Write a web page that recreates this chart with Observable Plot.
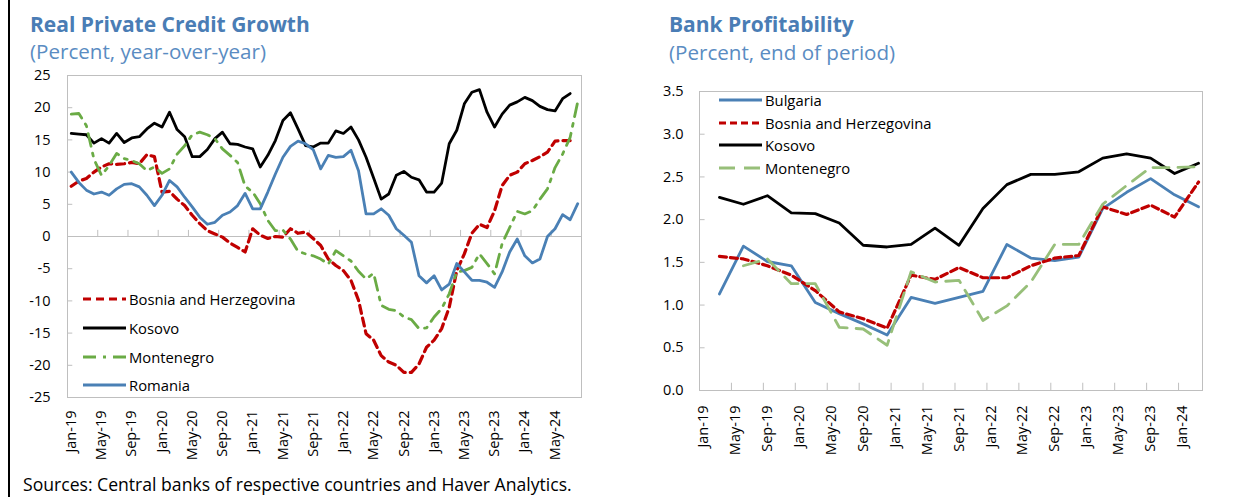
<!DOCTYPE html>
<html><head><meta charset="utf-8">
<script src="https://cdn.jsdelivr.net/npm/d3@7"></script>
<script src="https://cdn.jsdelivr.net/npm/@observablehq/plot@0.6"></script>
<style>
body{margin:0;background:#fff;width:1243px;height:497px;position:relative;overflow:hidden;font-family:"Open Sans",sans-serif;}
.vline{position:absolute;left:8px;top:0;width:2px;height:497px;background:#000;}
.title{position:absolute;font-weight:700;color:#4a7db5;font-size:21px;line-height:22px;white-space:nowrap;}
.sub{position:absolute;color:#5a8cc2;font-size:20.6px;line-height:20px;white-space:nowrap;}
.chart{position:absolute;}
.leg{position:absolute;font-size:14.8px;line-height:16px;color:#000;white-space:nowrap;display:flex;align-items:center;}
.leg svg{margin-right:3px;}
.caption{position:absolute;left:23px;top:475px;font-size:17.6px;line-height:18px;color:#000;white-space:nowrap;}
</style></head>
<body>
<div class="vline"></div>
<div class="title" style="left:30px;top:13px">Real Private Credit Growth</div>
<div class="sub" style="left:30px;top:41px">(Percent, year-over-year)</div>
<div class="title" style="left:669px;top:13px">Bank Profitability</div>
<div class="sub" style="left:669px;top:42px">(Percent, end of period)</div>
<div id="left" class="chart" style="left:0;top:65px"></div>
<div id="right" class="chart" style="left:640px;top:80px"></div>
<div id="legends"></div>
<div class="caption">Sources: Central banks of respective countries and Haver Analytics.</div>
<script>
// ---------- categories ----------
const monthStarts = d3.utcMonths(new Date(Date.UTC(2019,0,1)), new Date(Date.UTC(2024,8,1)));
const monthLabels = monthStarts.map(d3.utcFormat("%b-%y")); // Jan-19 ... Aug-24

// ---------- left: real private credit growth (monthly, Jan-19 onward) ----------
const bosniaGrowth = [7.8,8.6,9.0,10.0,10.8,11.3,11.2,11.3,11.5,11.3,12.7,12.4,6.9,7.0,5.8,4.8,3.3,2.0,0.9,0.4,-0.1,-1.0,-1.7,-2.4,1.2,0.2,-0.3,0.0,-0.1,1.2,0.5,0.7,-0.3,-1.4,-3.5,-4.5,-5.3,-6.8,-9.9,-15.1,-16.1,-18.5,-19.5,-20.0,-21.1,-21.1,-19.8,-17.2,-16.1,-14.3,-11.0,-5.3,-2.7,0.5,1.9,1.4,4.0,7.9,9.5,10.0,11.3,11.8,12.4,13.1,14.8,14.9,14.9];
const kosovoGrowth = [16.0,15.9,15.8,14.5,15.2,14.5,16.0,14.6,15.3,15.5,16.7,17.6,17.0,19.3,16.6,15.5,12.4,12.4,13.5,15.2,16.2,14.4,14.3,13.9,13.6,10.8,12.6,14.9,18.0,19.2,16.7,14.1,13.9,14.5,14.5,16.4,16.0,17.0,15.0,12.3,9.1,5.8,6.6,9.5,10.1,9.2,8.8,6.9,6.9,8.3,14.4,16.5,20.6,22.4,22.8,19.3,17.0,19.0,20.4,20.9,21.6,21.1,20.2,19.7,19.5,21.4,22.2];
const montenegroGrowth = [19.0,19.1,17.2,12.0,9.5,11.0,12.9,12.1,11.8,11.3,10.2,10.8,9.8,10.5,12.8,14.1,15.8,16.2,15.8,15.2,13.6,12.6,11.5,7.8,6.9,5.1,2.5,0.9,1.0,-0.4,-2.3,-2.7,-3.0,-3.5,-4.3,-2.2,-3.0,-3.8,-5.4,-6.6,-5.7,-10.7,-11.3,-11.5,-12.5,-12.9,-14.3,-14.2,-12.5,-11.2,-8.9,-5.5,-5.3,-4.8,-2.7,-4.2,-5.8,-1.1,1.4,3.9,3.5,4.0,5.8,7.4,10.7,12.8,15.4,20.9];
const romaniaGrowth = [10.0,8.4,7.2,6.6,6.9,6.4,7.4,8.1,8.2,7.7,6.4,4.8,6.4,8.7,7.7,6.1,4.6,3.0,1.9,2.2,3.3,3.8,4.8,6.7,4.3,4.3,6.9,9.7,12.3,14.0,14.8,14.4,13.5,10.5,12.6,12.3,12.4,13.4,10.2,3.5,3.5,4.3,3.3,1.2,0.2,-0.9,-6.1,-7.2,-6.1,-8.3,-7.4,-4.2,-5.5,-6.8,-6.8,-7.1,-7.9,-5.5,-2.4,-0.4,-3.0,-4.1,-3.5,0.0,1.2,3.4,2.6,5.1];
const growthTicks = [-25,-20,-15,-10,-5,0,5,10,15,20,25];

// ---------- right: bank profitability (quarterly, Mar-19 to Mar-24) ----------
const quarterMonthIndex = d3.range(21).map(q => 2 + 3*q); // Mar-19, Jun-19, ... Mar-24
const bulgariaROA   = [1.13,1.69,1.51,1.46,1.03,0.90,0.78,0.65,1.09,1.02,1.09,1.16,1.71,1.55,1.52,1.56,2.13,2.32,2.48,2.29,2.15];
const bosniaROA     = [1.57,1.54,1.46,1.35,1.17,0.92,0.84,0.73,1.35,1.30,1.44,1.32,1.32,1.46,1.55,1.58,2.15,2.06,2.17,2.03,2.44];
const kosovoROA     = [2.26,2.18,2.28,2.08,2.07,1.96,1.70,1.68,1.71,1.90,1.70,2.13,2.41,2.53,2.53,2.56,2.72,2.77,2.72,2.54,2.66];
const montenegroROA = [null,1.46,1.54,1.25,1.25,0.74,0.72,0.53,1.39,1.27,1.29,0.82,0.99,1.27,1.71,1.71,2.18,2.40,2.61,2.61,2.62];
const roaTicks = [0,0.5,1,1.5,2,2.5,3,3.5];

// ---------- styles ----------
const BLUE = "#4a80b5", RED = "#c00000", BLACK = "#000000", GREEN_L = "#6aab45", GREEN_R = "#97bf79", GRID = "#bfbfbf";

function rows(vals, xs) {
  return vals.map((v, i) => ({x: xs ? xs[i] : i, v})).filter(d => d.v != null);
}
const font = {fontFamily: '"Open Sans", sans-serif', fontSize: "14.5px", color: "#000", background: "transparent", overflow: "visible"};

// left chart
const nL = monthLabels.length; // 68
const leftSeries = [
  {name: "Bosnia and Herzegovina", vals: bosniaGrowth, stroke: RED, dash: "8,5", w: 3.2},
  {name: "Kosovo", vals: kosovoGrowth, stroke: BLACK, dash: null, w: 2.8},
  {name: "Montenegro", vals: montenegroGrowth, stroke: GREEN_L, dash: "13,7,3,7", w: 2.8},
  {name: "Romania", vals: romaniaGrowth, stroke: BLUE, dash: null, w: 2.8}
];
const leftChart = Plot.plot({
  width: 600, height: 400, marginLeft: 67, marginRight: 19, marginTop: 10, marginBottom: 68,
  x: {domain: [-0.5, nL - 0.5], axis: null},
  y: {domain: [-25, 25], axis: null},
  style: font,
  marks: [
    Plot.frame({stroke: GRID}),
    Plot.ruleY([0], {stroke: GRID, strokeWidth: 1.2}),
    Plot.ruleX(d3.range(3.5, nL - 1, 4), {x: d => d, y1: 0, y2: 0.95, stroke: GRID}),
    Plot.ruleY(growthTicks, {y: d => d, x1: -0.5, x2: 0.2, stroke: GRID}),
    Plot.axisY(growthTicks, {label: null, tickSize: 0, tickPadding: 17, tickFormat: d => String(d)}),
    Plot.axisX(d3.range(0, nL, 4), {label: null, tickSize: 0, tickPadding: 13, tickRotate: -90, tickFormat: i => monthLabels[i]}),
    ...leftSeries.map(s => Plot.line(rows(s.vals), {x: "x", y: "v", stroke: s.stroke, strokeWidth: s.w, strokeDasharray: s.dash, strokeLinejoin: "round"}))
  ]
});
document.getElementById("left").append(leftChart);

// right chart
const nR = 63; // Jan-19 .. Mar-24
const rightSeries = [
  {name: "Bulgaria", vals: bulgariaROA, stroke: BLUE, dash: null, w: 2.8},
  {name: "Bosnia and Herzegovina", vals: bosniaROA, stroke: RED, dash: "7,4", w: 3.2},
  {name: "Kosovo", vals: kosovoROA, stroke: BLACK, dash: null, w: 2.8},
  {name: "Montenegro", vals: montenegroROA, stroke: GREEN_R, dash: "16,9", w: 2.8}
];
const rightChart = Plot.plot({
  width: 603, height: 400, marginLeft: 59, marginRight: 41, marginTop: 11, marginBottom: 90,
  x: {domain: [-0.5, nR - 0.5], axis: null},
  y: {domain: [0, 3.5], axis: null},
  style: font,
  marks: [
    Plot.frame({stroke: GRID}),
    Plot.ruleX(d3.range(3.5, nR - 1, 4), {x: d => d, y1: 0, y2: 0.085, stroke: GRID}),
    Plot.ruleY(roaTicks, {y: d => d, x1: -0.5, x2: 0.2, stroke: GRID}),
    Plot.axisY(roaTicks, {label: null, tickSize: 0, tickPadding: 16, tickFormat: d => d.toFixed(1)}),
    Plot.axisX(d3.range(0, nR, 4), {label: null, tickSize: 0, tickPadding: 15, tickRotate: -90, tickFormat: i => monthLabels[i]}),
    ...rightSeries.map(s => Plot.line(rows(s.vals, quarterMonthIndex), {x: "x", y: "v", stroke: s.stroke, strokeWidth: s.w, strokeDasharray: s.dash, strokeLinejoin: "round"}))
  ]
});
document.getElementById("right").append(rightChart);

// legends
function legend(series, left, tops) {
  const host = document.getElementById("legends");
  series.forEach((s, i) => {
    const div = document.createElement("div");
    div.className = "leg";
    div.style.left = left + "px";
    div.style.top = (tops[i] - 8) + "px";
    div.innerHTML = `<svg width="43" height="8"><line x1="0" y1="4" x2="43" y2="4" stroke="${s.stroke}" stroke-width="${s.w}" ${s.dash ? `stroke-dasharray="${s.dash}"` : ""}/></svg><span>${s.name}</span>`;
    host.append(div);
  });
}
legend(leftSeries, 83, [299, 328, 357, 385]);
legend(rightSeries, 719, [100, 123, 145, 168]);
</script>
</body></html>
